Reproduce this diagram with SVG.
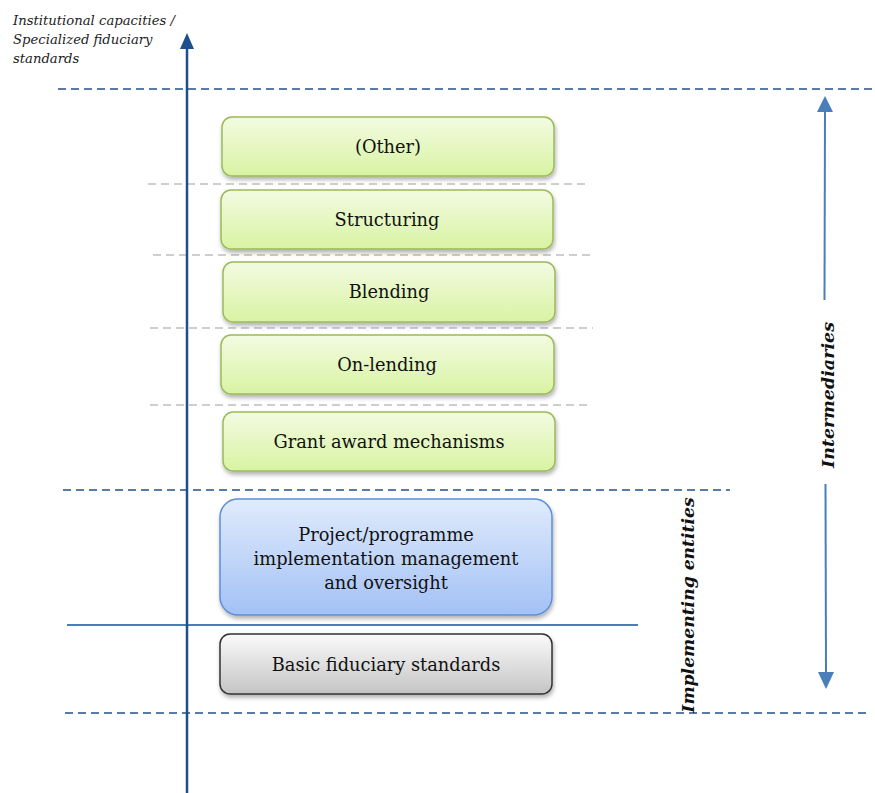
<svg xmlns="http://www.w3.org/2000/svg" width="875" height="793" viewBox="0 0 875 793">
<style>
.box{font-family:"DejaVu Serif","Liberation Serif",serif;font-size:17.8px;fill:#111;text-anchor:middle}
.dash{stroke:#264F8A;stroke-width:1.7;stroke-dasharray:8,5;fill:none}
.gdash{stroke:#BFBFBF;stroke-width:1.3;stroke-dasharray:8,5;fill:none}
.lab{font-family:"DejaVu Serif","Liberation Serif",serif;font-style:italic;font-weight:bold;fill:#111;text-anchor:middle}
.ax{font-family:"DejaVu Serif","Liberation Serif",serif;font-style:italic;font-size:13.2px;fill:#222}
.g{fill:url(#gg);stroke:#9BBB59;stroke-width:1.5}
</style>
<defs>
<linearGradient id="gg" x1="0" y1="0" x2="0" y2="1"><stop offset="0" stop-color="#F3FBE2"/><stop offset="1" stop-color="#D8F3A2"/></linearGradient>
<linearGradient id="gb" x1="0" y1="0" x2="0" y2="1"><stop offset="0" stop-color="#E0EBFC"/><stop offset="1" stop-color="#A3C1F5"/></linearGradient>
<linearGradient id="gy" x1="0" y1="0" x2="0" y2="1"><stop offset="0" stop-color="#FBFBFB"/><stop offset="1" stop-color="#C4C4C4"/></linearGradient>
<filter id="sh" x="-5%" y="-10%" width="110%" height="130%"><feDropShadow dx="1" dy="3" stdDeviation="2" flood-color="#000" flood-opacity="0.3"/></filter>
</defs>
<g id="connectors">
<line class="dash" x1="58" y1="89" x2="875" y2="89"/>
<line class="gdash" x1="148" y1="184" x2="590" y2="184"/>
<line class="gdash" x1="153" y1="255" x2="595" y2="255"/>
<line class="gdash" x1="150" y1="328" x2="593" y2="328"/>
<line class="gdash" x1="150" y1="405" x2="592" y2="405"/>
<line class="dash" x1="63" y1="490" x2="730" y2="490"/>
<line x1="67" y1="625" x2="638" y2="625" stroke="#4A7EBB" stroke-width="2"/>
<line class="dash" x1="65" y1="713" x2="870" y2="713"/>
<line x1="187" y1="795" x2="187" y2="48" stroke="#1F4E8C" stroke-width="2.5"/>
<path d="M180,49 L187,33 L194,49 z" fill="#1F4E8C"/>
<line x1="824.5" y1="300" x2="825" y2="110" stroke="#4A7EBB" stroke-width="2"/>
<path d="M817,112 L825,96 L833,112 z" fill="#4A7EBB"/>
<line x1="825.5" y1="484" x2="826" y2="674" stroke="#4A7EBB" stroke-width="2"/>
<path d="M818,672 L826,689 L834,672 z" fill="#4A7EBB"/>
</g>
<g id="axis-label">
<text class="ax" x="13" y="25">Institutional capacities /</text>
<text class="ax" x="13" y="44">Specialized fiduciary</text>
<text class="ax" x="13" y="63">standards</text>
</g>
<g id="other"><rect class="g" x="222" y="117" width="332" height="59" rx="10" filter="url(#sh)"/><text class="box" x="388" y="153">(Other)</text></g>
<g id="structuring"><rect class="g" x="221" y="190" width="332" height="59" rx="10" filter="url(#sh)"/><text class="box" x="387" y="226">Structuring</text></g>
<g id="blending"><rect class="g" x="223" y="262" width="332" height="60" rx="10" filter="url(#sh)"/><text class="box" x="389" y="298">Blending</text></g>
<g id="onlending"><rect class="g" x="221" y="335" width="333" height="59" rx="10" filter="url(#sh)"/><text class="box" x="387" y="371">On-lending</text></g>
<g id="grant"><rect class="g" x="223" y="412" width="332" height="59" rx="10" filter="url(#sh)"/><text class="box" x="389" y="448">Grant award mechanisms</text></g>
<g id="project"><rect x="220" y="499" width="332" height="116" rx="18" fill="url(#gb)" stroke="#5B8FD6" stroke-width="1.5" filter="url(#sh)"/>
<text class="box" x="386" y="541">Project/programme</text>
<text class="box" x="386" y="565">implementation management</text>
<text class="box" x="386" y="589">and oversight</text></g>
<g id="basic"><rect x="220" y="634" width="332" height="60" rx="10" fill="url(#gy)" stroke="#333" stroke-width="1.5" filter="url(#sh)"/><text class="box" x="386" y="671">Basic fiduciary standards</text></g>
<g id="intermediaries"><text class="lab" font-size="17.5" transform="translate(834,395) rotate(-90)">Intermediaries</text></g>
<g id="implementing"><text class="lab" font-size="17.2" transform="translate(694,605) rotate(-90)">Implementing entities</text></g>
</svg>
